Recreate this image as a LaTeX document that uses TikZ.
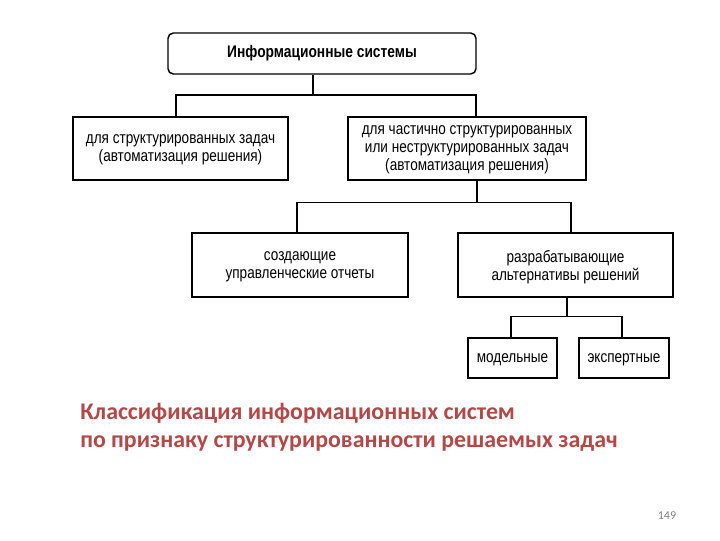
\documentclass[tikz,border=0pt]{standalone}
\usepackage{fontspec}
\setmainfont{Liberation Sans}
\newfontfamily\boxfont[FakeStretch=0.82]{Liberation Sans}
\newfontfamily\slidefont{Carlito}
\usetikzlibrary{positioning,calc}
\definecolor{titlered}{RGB}{178, 72, 72}
\definecolor{pagegray}{RGB}{128, 128, 128}

\begin{document}
\begin{tikzpicture}[
    x=0.75pt, y=-0.75pt,
    every node/.style={align=center, inner sep=0pt},
    topbox/.style={rectangle, rounded corners=4pt, draw=black, line width=1.1pt, font=\boxfont\fontsize{12.6}{14}\selectfont\bfseries},
    classbox/.style={rectangle, draw=black, line width=1.4pt, text depth=-2.5pt, font=\boxfont\fontsize{12.4}{13.5}\selectfont},
    link/.style={draw=black, line width=0.8pt}
]
\useasboundingbox (0,0) rectangle (720,540);

% Root
\node[topbox, minimum width=231pt, minimum height=30.75pt] (is) at (322,53.5) {Информационные системы};

% First level
\node[classbox, minimum width=161.25pt, minimum height=47.25pt] (struct) at (180.5,148.5) {для структурированных задач\\(автоматизация решения)};
\node[classbox, minimum width=178.5pt, minimum height=47.25pt] (semi) at (467,148.5) {для частично структурированных\\или неструктурированных задач\\(автоматизация решения)};

% Second level
\node[classbox, minimum width=162pt, minimum height=48pt] (reports) at (300,265) {создающие\\управленческие отчеты};
\node[classbox, minimum width=161.25pt, minimum height=48pt] (alts) at (565.5,265) {разрабатывающие\\альтернативы решений};

% Third level
\node[classbox, minimum width=66.75pt, minimum height=30pt] (model) at (512.5,358) {модельные};
\node[classbox, minimum width=67.5pt, minimum height=30pt] (expert) at (624,358) {экспертные};

% Bus points
\coordinate (j1) at (313,95);
\coordinate (j1l) at (176,95);
\coordinate (j1r) at (476,95);
\coordinate (j2) at (477,202.5);
\coordinate (j2l) at (297,202.5);
\coordinate (j2r) at (571,202.5);
\coordinate (j3) at (567,316.5);
\coordinate (j3l) at (511,316.5);
\coordinate (j3r) at (622,316.5);

% Connections
\draw[link] (j1 |- is.south) -- (j1);
\draw[link] (j1l |- struct.north) -- (j1l) -- (j1r) -- (j1r |- semi.north);
\draw[link] (j2 |- semi.south) -- (j2);
\draw[link] (j2l |- reports.north) -- (j2l) -- (j2r) -- (j2r |- alts.north);
\draw[link] (j3 |- alts.south) -- (j3);
\draw[link] (j3l |- model.north) -- (j3l) -- (j3r) -- (j3r |- expert.north);

% Caption
\node[anchor=base west, align=left, text=titlered, font=\slidefont\bfseries\fontsize{17.9}{21}\selectfont] (caption) at (80,447) {Классификация информационных систем\\по признаку структурированности решаемых задач};
\node[text=pagegray, font=\slidefont\fontsize{9}{10}\selectfont] (pagenum) at (667,516) {149};

\end{tikzpicture}
\end{document}
